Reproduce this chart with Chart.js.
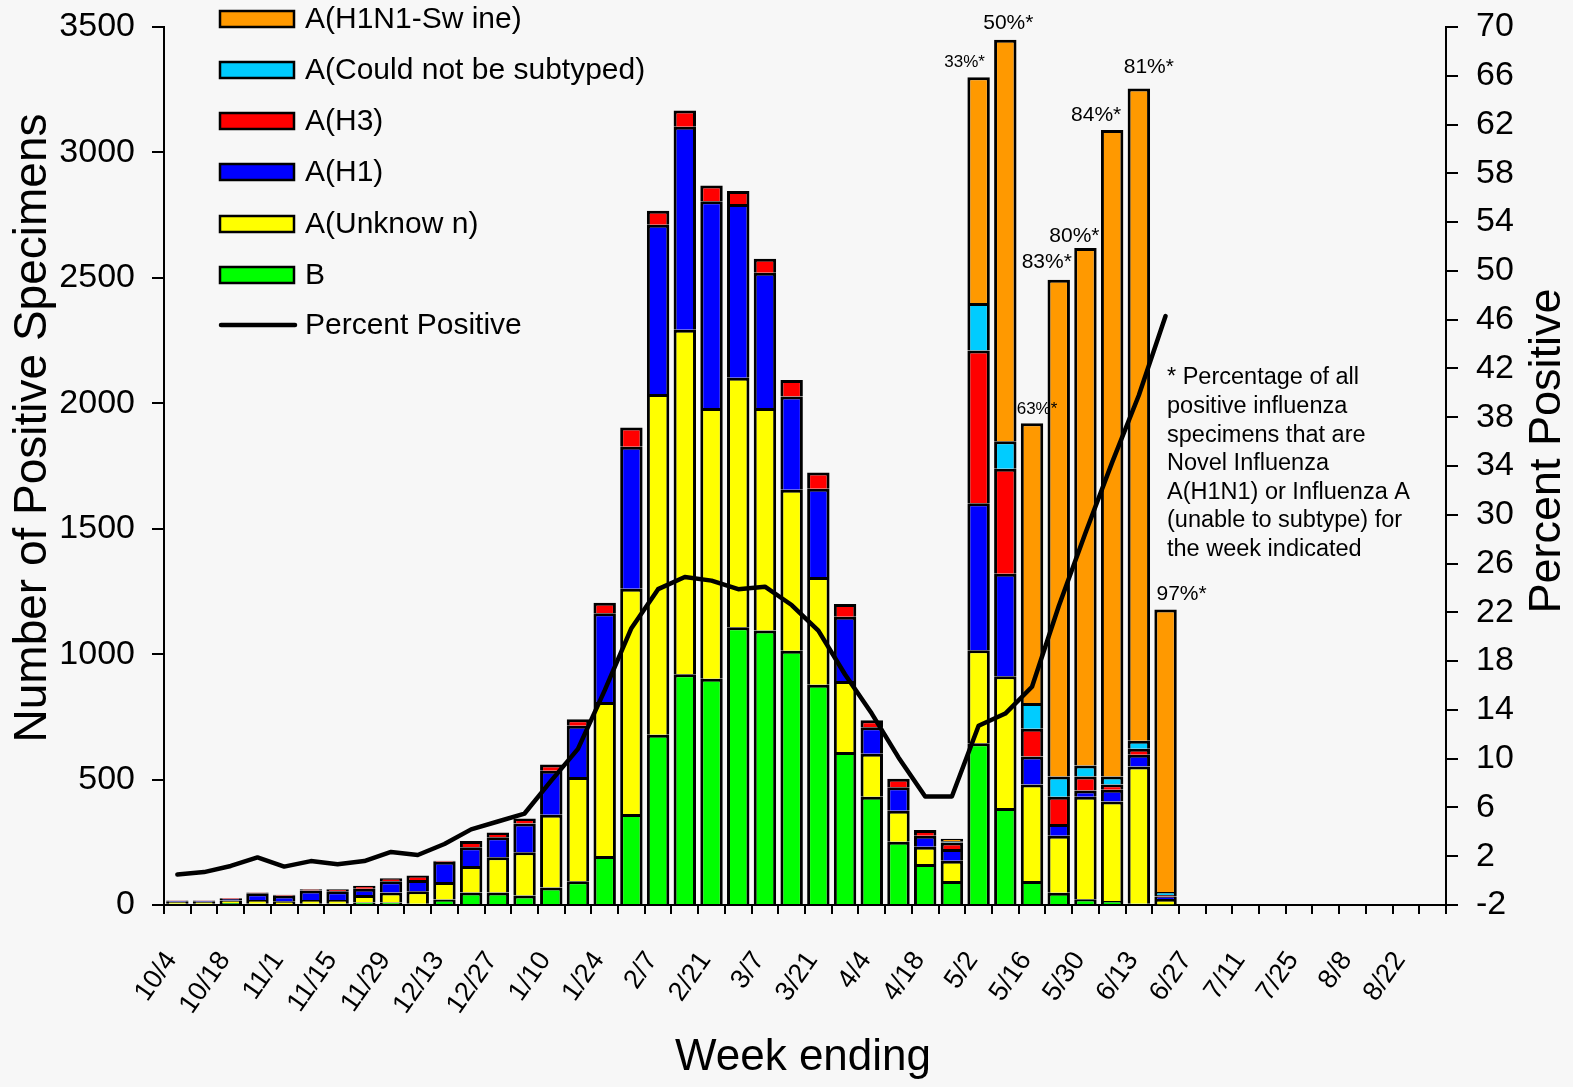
<!DOCTYPE html>
<html><head><meta charset="utf-8">
<script src="https://cdn.jsdelivr.net/npm/chart.js@4.4.1/dist/chart.umd.min.js"></script>
<style>
html,body{margin:0;padding:0;background:#f7f7f7;}
#wrap{width:1573px;height:1087px;position:relative;}
</style>
</head><body>
<div id="wrap"><canvas id="c"></canvas></div>
<script>
// ---- data ----
const weeks = ['10/4','10/11','10/18','10/25','11/1','11/8','11/15','11/22','11/29','12/6','12/13','12/20','12/27',
  '1/3','1/10','1/17','1/24','1/31','2/7','2/14','2/21','2/28','3/7','3/14','3/21','3/28','4/4','4/11','4/18','4/25',
  '5/2','5/9','5/16','5/23','5/30','6/6','6/13','6/20','6/27','7/4','7/11','7/18','7/25','8/1','8/8','8/15','8/22','8/29'];

const seriesB = [5,5,8,5,3,5,5,10,10,5,22,50,50,38,70,95,195,363,679,920,902,1107,1094,1014,878,610,432,252,163,96,
  645,387,96,49,23,16,5,2];
const seriesUnknown = [8,8,10,15,12,15,15,30,40,50,70,105,140,172,290,415,614,898,1358,1373,1079,995,887,641,430,283,171,124,69,80,
  371,525,384,227,409,397,547,22];
const seriesH1 = [3,3,6,27,22,38,35,25,45,45,80,75,80,115,175,205,354,566,675,809,824,692,539,372,351,256,106,93,44,47,
  586,408,112,47,24,46,47,10];
const seriesH3 = [2,2,3,3,4,5,8,12,12,18,4,25,19,20,25,25,42,76,56,65,63,52,56,66,65,51,27,34,23,26,
  608,419,111,109,56,21,24,6];
const seriesNotSubtyped = [null,null,null,null,null,null,null,null,null,null,null,null,null,null,null,null,null,null,null,null,
  null,null,null,null,null,null,null,null,null,5,190,110,102,80,44,32,32,12];
const seriesSwine = [null,null,null,null,null,null,null,null,null,null,null,null,null,null,null,null,null,null,null,null,
  null,null,null,null,null,null,null,null,null,10,900,1600,1115,1980,2063,2577,2600,1126];
const percentPositive = [0.5,0.7,1.2,1.9,1.15,1.6,1.35,1.6,2.35,2.1,3.0,4.2,4.85,5.5,8.2,10.8,15.6,20.7,23.9,24.9,24.6,23.9,24.1,22.6,20.5,16.9,
  13.7,10.1,6.9,6.9,12.7,13.7,15.9,22.5,28.5,34.3,39.8,46.3];
const novelLabels = {30:'33%*',31:'50%*',32:'63%*',33:'83%*',34:'80%*',35:'84%*',36:'81%*',37:'97%*'};
const leftTicks = [0,500,1000,1500,2000,2500,3000,3500];
const rightTicks = [-2,2,6,10,14,18,22,26,30,34,38,42,46,50,54,58,62,66,70];
const noteLines = ['* Percentage of all','positive influenza','specimens that are','Novel Influenza',
  'A(H1N1) or Influenza A','(unable to subtype) for','the week indicated'];

// ---- styles ----
const FONT = "'Liberation Sans', Arial, sans-serif";
const colors = {swine:'#FF9900', notsub:'#00CCFF', h3:'#FF0000', h1:'#0000FF', unk:'#FFFF00', b:'#00FF00'};
const labelStyle = { // dx, dy-above-bar, font size
  30:[-14,15,17],31:[3,17,21],32:[5,14,17],33:[-12,18,21],34:[-11,12,21],35:[-16,15,21],36:[10,21,21],37:[16,15,21]
};

function pad(arr){ const a = arr.slice(); while(a.length<weeks.length) a.push(null); return a; }
function barDs(label, data, color){
  return {type:'bar', label, data:pad(data), backgroundColor:color, borderColor:'#000', borderWidth:3,
    yAxisID:'y', stack:'s', order:1, categoryPercentage:0.84, barPercentage:1.0};
}

const overlay = {
  id:'overlay',
  afterDraw(chart){
    const ctx = chart.ctx, x = chart.scales.x, y = chart.scales.y;
    ctx.save();
    ctx.fillStyle = '#000';
    // percent labels above bars
    const totals = weeks.map((w,i)=>[seriesB,seriesUnknown,seriesH1,seriesH3,seriesNotSubtyped,seriesSwine]
      .reduce((s,a)=>s+(a[i]||0),0));
    Object.keys(novelLabels).forEach(k=>{
      const i = +k, st = labelStyle[i];
      ctx.font = st[2]+'px '+FONT;
      ctx.textAlign='center'; ctx.textBaseline='middle';
      ctx.fillText(novelLabels[i], x.getPixelForValue(i)+st[0], y.getPixelForValue(totals[i])-st[1]);
    });
    // note
    ctx.font = '23.5px '+FONT; ctx.textAlign='left'; ctx.textBaseline='middle';
    noteLines.forEach((t,j)=>ctx.fillText(t, 1167, 378 + j*28.6));
    // legend
    const items = chart.data.datasets.filter(d=>d.type==='bar').slice().reverse();
    const rowY = [19,70,121,172,224,275];
    ctx.font = '30px '+FONT;
    items.forEach((d,j)=>{
      ctx.fillStyle = d.backgroundColor;
      ctx.fillRect(220, rowY[j]-8, 74, 16);
      ctx.lineWidth = 2.5; ctx.strokeStyle='#000';
      ctx.strokeRect(220, rowY[j]-8, 74, 16);
      ctx.fillStyle='#000';
      ctx.fillText(d.label, 305, rowY[j]+1);
    });
    const ln = chart.data.datasets.find(d=>d.type==='line');
    ctx.beginPath(); ctx.lineWidth=4.5; ctx.lineCap='round'; ctx.strokeStyle='#000';
    ctx.moveTo(221,325); ctx.lineTo(295,325); ctx.stroke();
    ctx.fillText(ln.label, 305, 326);
    // axis titles
    ctx.textAlign='center';
    ctx.font = '46px '+FONT;
    ctx.save(); ctx.translate(33,428); ctx.rotate(-Math.PI/2); ctx.fillText('Number of Positive Specimens',0,0); ctx.restore();
    ctx.font = '45px '+FONT;
    ctx.save(); ctx.translate(1548,451); ctx.rotate(-Math.PI/2); ctx.fillText('Percent Positive',0,0); ctx.restore();
    ctx.font = '44px '+FONT;
    ctx.fillText('Week ending', 803, 1058);
    ctx.restore();
  }
};

function fixV(w){ return s=>{ s.width=w; s.paddingTop=0; s.paddingBottom=0; }; }

new Chart(document.getElementById('c'), {
  data: {
    labels: weeks,
    datasets: [
      barDs('B', seriesB, colors.b),
      barDs('A(Unknow n)', seriesUnknown, colors.unk),
      barDs('A(H1)', seriesH1, colors.h1),
      barDs('A(H3)', seriesH3, colors.h3),
      barDs('A(Could not be subtyped)', seriesNotSubtyped, colors.notsub),
      barDs('A(H1N1-Sw ine)', seriesSwine, colors.swine),
      {type:'line', label:'Percent Positive', data:pad(percentPositive), yAxisID:'y1', borderColor:'#000',
       borderWidth:4.5, pointRadius:0, tension:0, order:0, borderJoinStyle:'round', borderCapStyle:'round', spanGaps:false}
    ]
  },
  options: {
    responsive:true, maintainAspectRatio:false, animation:false,
    layout:{padding:{top:27, left:0, right:0, bottom:0}},
    plugins:{legend:{display:false}, tooltip:{enabled:false}},
    scales:{
      x:{stacked:true, offset:true,
        grid:{offset:true, drawOnChartArea:false, tickLength:9, color:'#000', lineWidth:2},
        border:{color:'#000', width:2},
        ticks:{autoSkip:false, minRotation:55, maxRotation:55, color:'#000', padding:32, labelOffset:-6,
          font:{family:FONT, size:27}, callback:(v,i)=> i%2===0 ? weeks[i] : ''},
        afterFit:s=>{s.height=182; s.paddingLeft=0; s.paddingRight=0;}
      },
      y:{stacked:true, position:'left', min:0, max:3500,
        afterBuildTicks:s=>{s.ticks = leftTicks.map(v=>({value:v}));},
        grid:{drawOnChartArea:false, tickLength:12, color:'#000', lineWidth:2},
        border:{color:'#000', width:2},
        ticks:{color:'#000', padding:17, font:{family:FONT, size:34}, callback:v=>String(v)},
        afterFit:fixV(164)
      },
      y1:{position:'right', min:-2, max:70,
        afterBuildTicks:s=>{s.ticks = rightTicks.map(v=>({value:v}));},
        grid:{drawOnChartArea:false, tickLength:12, color:'#000', lineWidth:2},
        border:{color:'#000', width:2},
        ticks:{color:'#000', padding:18, font:{family:FONT, size:34}, callback:v=>String(v)},
        afterFit:fixV(127)
      }
    }
  },
  plugins:[overlay]
});
</script>
</body></html>
